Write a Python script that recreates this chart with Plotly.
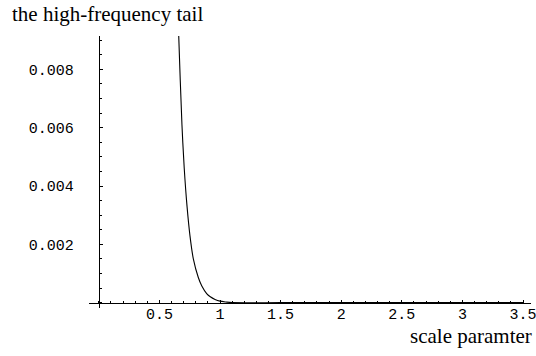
import plotly.graph_objects as go

# curve
x_vals = [0.650, 0.659, 0.686, 0.705, 0.728, 0.752, 0.780, 0.821, 0.850, 0.890, 0.920, 0.959, 1.000, 1.050, 1.100, 1.500, 2.000, 3.000, 3.500]
y_vals = [0.0105, 0.0092, 0.0061, 0.0046, 0.0033, 0.0023, 0.00150, 0.00086, 0.00057, 0.00031, 0.00020, 0.00011, 0.00005, 0.00002, 0.0, 0.0, 0.0, 0.0, 0.0]

x_ticks = [0.5, 1, 1.5, 2, 2.5, 3, 3.5]
x_tick_labels = ["0.5", "1", "1.5", "2", "2.5", "3", "3.5"]
y_ticks = [0.002, 0.004, 0.006, 0.008]
y_tick_labels = ["0.002", "0.004", "0.006", "0.008"]

title_text = "the high-frequency tail"
x_label = "scale paramter"

W, H = 536, 356
L, R, T, B = 89, 5, 36, 48
x_range = [-0.0809, 3.566]
y_range = [-0.000185, 0.009146]

x_pos = (0 - y_range[0]) / (y_range[1] - y_range[0])
y_pos = (0 - x_range[0]) / (x_range[1] - x_range[0])

pw, ph = W - L - R, H - T - B

tick_font = dict(family="Liberation Mono, Courier New, monospace", size=15, color="black")
serif = dict(family="Liberation Serif, Times New Roman, serif", size=21, color="black")

fig = go.Figure()
fig.add_trace(go.Scatter(x=x_vals, y=y_vals, mode="lines",
                         line=dict(color="black", width=1.1, shape="spline", smoothing=0.8),
                         hoverinfo="skip", showlegend=False))

fig.update_layout(
    width=W, height=H,
    margin=dict(l=L, r=R, t=T, b=B, autoexpand=False),
    paper_bgcolor="white", plot_bgcolor="white",
    xaxis=dict(range=x_range, anchor="free", position=x_pos, showgrid=False, zeroline=False,
               automargin=False,
               showline=True, linecolor="black", linewidth=1,
               tickmode="array", tickvals=x_ticks, ticktext=x_tick_labels, ticks="inside", ticklen=3,
               tickcolor="black", tickwidth=1, tickfont=tick_font, ticklabeloverflow="allow",
               ticklabelstandoff=-3,
               minor=dict(dtick=0.1, tick0=0, ticks="inside", ticklen=2, tickcolor="black", showgrid=False)),
    yaxis=dict(range=y_range, anchor="free", position=y_pos, showgrid=False, zeroline=False,
               automargin=False,
               showline=True, linecolor="black", linewidth=1,
               tickmode="array", tickvals=y_ticks, ticktext=y_tick_labels, ticks="inside", ticklen=3,
               tickcolor="black", tickwidth=1, tickfont=tick_font, ticklabelstandoff=22,
               minor=dict(dtick=0.0005, tick0=0, ticks="inside", ticklen=2, tickcolor="black", showgrid=False)),
    annotations=[
        dict(text=title_text, xref="paper", yref="paper", x=-(L - 10) / pw, y=1 + T / ph,
             xanchor="left", yanchor="top", showarrow=False, font=serif),
        dict(text=x_label, xref="paper", yref="paper", x=1 + (R - 2) / pw, y=-(322 - (H - B)) / ph,
             xanchor="right", yanchor="top", showarrow=False, font=serif),
    ],
)

fig.write_html("out.html")
